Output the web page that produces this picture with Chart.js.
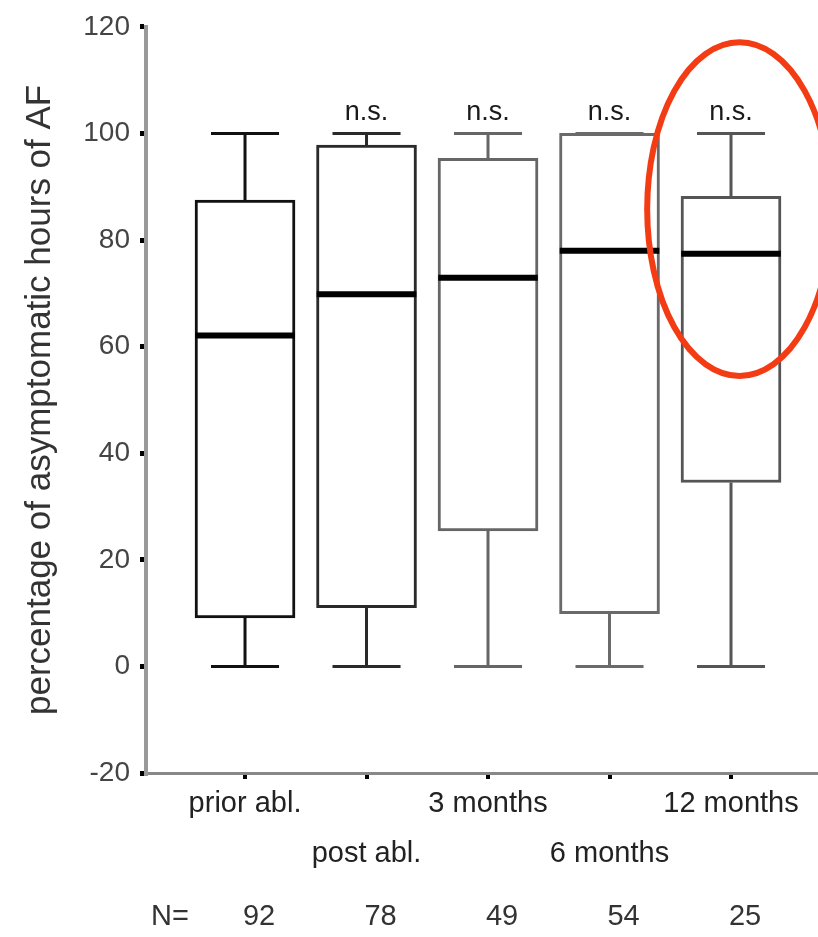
<!DOCTYPE html>
<html>
<head>
<meta charset="utf-8">
<title>Asymptomatic hours of AF</title>
<script src="https://cdn.jsdelivr.net/npm/chart.js@4.4.1/dist/chart.umd.min.js"></script>
<style>
  html, body { margin: 0; padding: 0; background: #fff; }
  #boxChart { display: block; }
</style>
</head>
<body>
<canvas id="boxChart" width="818" height="937"></canvas>
<script>
// données (percentage of asymptomatic hours of AF)
const categories = ['prior abl.', 'post abl.', '3 months', '6 months', '12 months'];
const sampleSizes = [92, 78, 49, 54, 25];
const whiskerLow = [0, 0, 0, 0, 0];
const boxLow = [9.1, 11.0, 25.4, 9.9, 34.5];
const medians = [62.1, 69.8, 72.9, 78.0, 77.4];
const boxHigh = [87.5, 97.8, 95.3, 100, 88.2];
const whiskerHigh = [100, 100, 100, 100, 100];
const significance = ['', 'n.s.', 'n.s.', 'n.s.', 'n.s.'];
const yTicks = [-20, 0, 20, 40, 60, 80, 100, 120];

// style
const FONT = 'Liberation Sans, Arial, Helvetica, sans-serif';
const boxColors = ['#111', '#2a2a2a', '#666', '#6a6a6a', '#555'];
const MEDIAN_HALF = 0.41;   // demi-largeur de la médiane (unités x)
const CAP_HALF = 0.28;      // demi-largeur des moustaches
const highlight = { x: 5.07, y: 85.8, rx: 0.76, ry: 31.3 }; // ellipse rouge (unités des axes)

// segments des médianes (un null sépare chaque boîte)
function buildMedianPoints() {
    let pts = [];
    categories.forEach((c, i) => {
        pts.push({ x: i + 1 - MEDIAN_HALF, y: medians[i] });
        pts.push({ x: i + 1 + MEDIAN_HALF, y: medians[i] });
        pts.push({ x: i + 1, y: null });
    });
    return pts;
}

// moustaches: tige + barre aux deux extrémités
function buildWhiskerPoints() {
    let pts = [];
    categories.forEach((c, i) => {
        const x = i + 1;
        pts.push({ x: x, y: boxHigh[i] }, { x: x, y: whiskerHigh[i] }, { x: x, y: null });
        pts.push({ x: x - CAP_HALF, y: whiskerHigh[i] }, { x: x + CAP_HALF, y: whiskerHigh[i] }, { x: x, y: null });
        pts.push({ x: x, y: boxLow[i] }, { x: x, y: whiskerLow[i] }, { x: x, y: null });
        pts.push({ x: x - CAP_HALF, y: whiskerLow[i] }, { x: x + CAP_HALF, y: whiskerLow[i] }, { x: x, y: null });
    });
    return pts;
}

// textes ajoutés: n.s., ligne N=, ellipse rouge
const annotationsPlugin = {
    id: 'annotations',
    afterDatasetsDraw(chart) {
        const { ctx, scales: { x, y } } = chart;
        ctx.save();
        ctx.textAlign = 'center';
        ctx.textBaseline = 'alphabetic';
        ctx.fillStyle = '#1a1a1a';
        ctx.font = '27px ' + FONT;
        significance.forEach((s, i) => {
            if (!s) return;
            ctx.fillText(s, x.getPixelForValue(i + 1), y.getPixelForValue(whiskerHigh[i]) - 13);
        });

        ctx.textBaseline = 'middle';
        ctx.font = '29px ' + FONT;
        ctx.fillStyle = '#333';
        ctx.fillText('N=', 170, 917);
        sampleSizes.forEach((n, i) => {
            ctx.fillText(String(n), x.getPixelForValue(i + 1) + 14, 917);
        });

        const cx = x.getPixelForValue(highlight.x);
        const cy = y.getPixelForValue(highlight.y);
        const rx = Math.abs(x.getPixelForValue(highlight.x + highlight.rx) - cx);
        const ry = Math.abs(y.getPixelForValue(highlight.y + highlight.ry) - cy);
        ctx.beginPath();
        ctx.ellipse(cx, cy, rx, ry, 0, 0, Math.PI * 2);
        ctx.lineWidth = 6;
        ctx.strokeStyle = '#f43c14';
        ctx.stroke();
        ctx.restore();
    }
};

function createBoxChart() {
    const ctx = document.getElementById('boxChart').getContext('2d');
    return new Chart(ctx, {
        type: 'bar',
        data: {
            datasets: [
                {
                    type: 'line',
                    label: 'whiskers',
                    data: buildWhiskerPoints(),
                    borderColor: '#333',
                    borderWidth: 3,
                    pointRadius: 0,
                    spanGaps: false,
                    segment: { borderColor: c => boxColors[Math.round(c.p0.parsed.x) - 1] },
                    order: 3
                },
                {
                    type: 'bar',
                    label: 'boxes',
                    data: categories.map((c, i) => ({ x: i + 1, y: [boxLow[i], boxHigh[i]] })),
                    backgroundColor: '#fff',
                    borderColor: boxColors,
                    borderWidth: 3,
                    borderSkipped: false,
                    barThickness: 100,
                    order: 2
                },
                {
                    type: 'line',
                    label: 'median',
                    data: buildMedianPoints(),
                    borderColor: '#000',
                    borderWidth: 6,
                    borderCapStyle: 'butt',
                    pointRadius: 0,
                    spanGaps: false,
                    order: 1
                }
            ]
        },
        options: {
            responsive: false,
            animation: false,
            devicePixelRatio: 1,
            layout: { padding: { top: 23, right: 0, left: 0, bottom: 0 } },
            plugins: { legend: { display: false }, tooltip: { enabled: false } },
            scales: {
                x: {
                    type: 'linear',
                    min: 0.185,
                    max: 5.716,
                    offset: false,
                    afterBuildTicks: s => { s.ticks = categories.map((c, i) => ({ value: i + 1 })); },
                    afterFit: s => { s.height = 164; },
                    grid: { offset: false, drawOnChartArea: false, drawTicks: true, tickLength: 6, tickColor: '#000', lineWidth: 4 },
                    border: { display: true, color: '#888', width: 3 },
                    ticks: {
                        autoSkip: false, maxRotation: 0, minRotation: 0,
                        padding: 0,
                        color: '#222',
                        font: { family: FONT, size: 29, lineHeight: 1.72 },
                        callback: v => {
                            const i = Math.round(v) - 1;
                            if (i < 0 || i >= categories.length) return '';
                            return i % 2 === 0 ? categories[i] : ['', categories[i]];
                        }
                    }
                },
                y: {
                    min: -20,
                    max: 120,
                    afterBuildTicks: s => { s.ticks = yTicks.map(v => ({ value: v })); },
                    afterFit: s => { s.width = 146; },
                    grid: { drawOnChartArea: false, drawTicks: true, tickLength: 6, tickColor: '#000', lineWidth: 5 },
                    border: { display: true, color: '#999', width: 4 },
                    ticks: { padding: 10, color: '#444', font: { family: FONT, size: 28 } },
                    title: {
                        display: true,
                        text: 'percentage of asymptomatic hours of AF',
                        color: '#333',
                        font: { family: FONT, size: 35 },
                        padding: { top: 19, bottom: 0 }
                    }
                }
            }
        },
        plugins: [annotationsPlugin]
    });
}

createBoxChart();
</script>
</body>
</html>
